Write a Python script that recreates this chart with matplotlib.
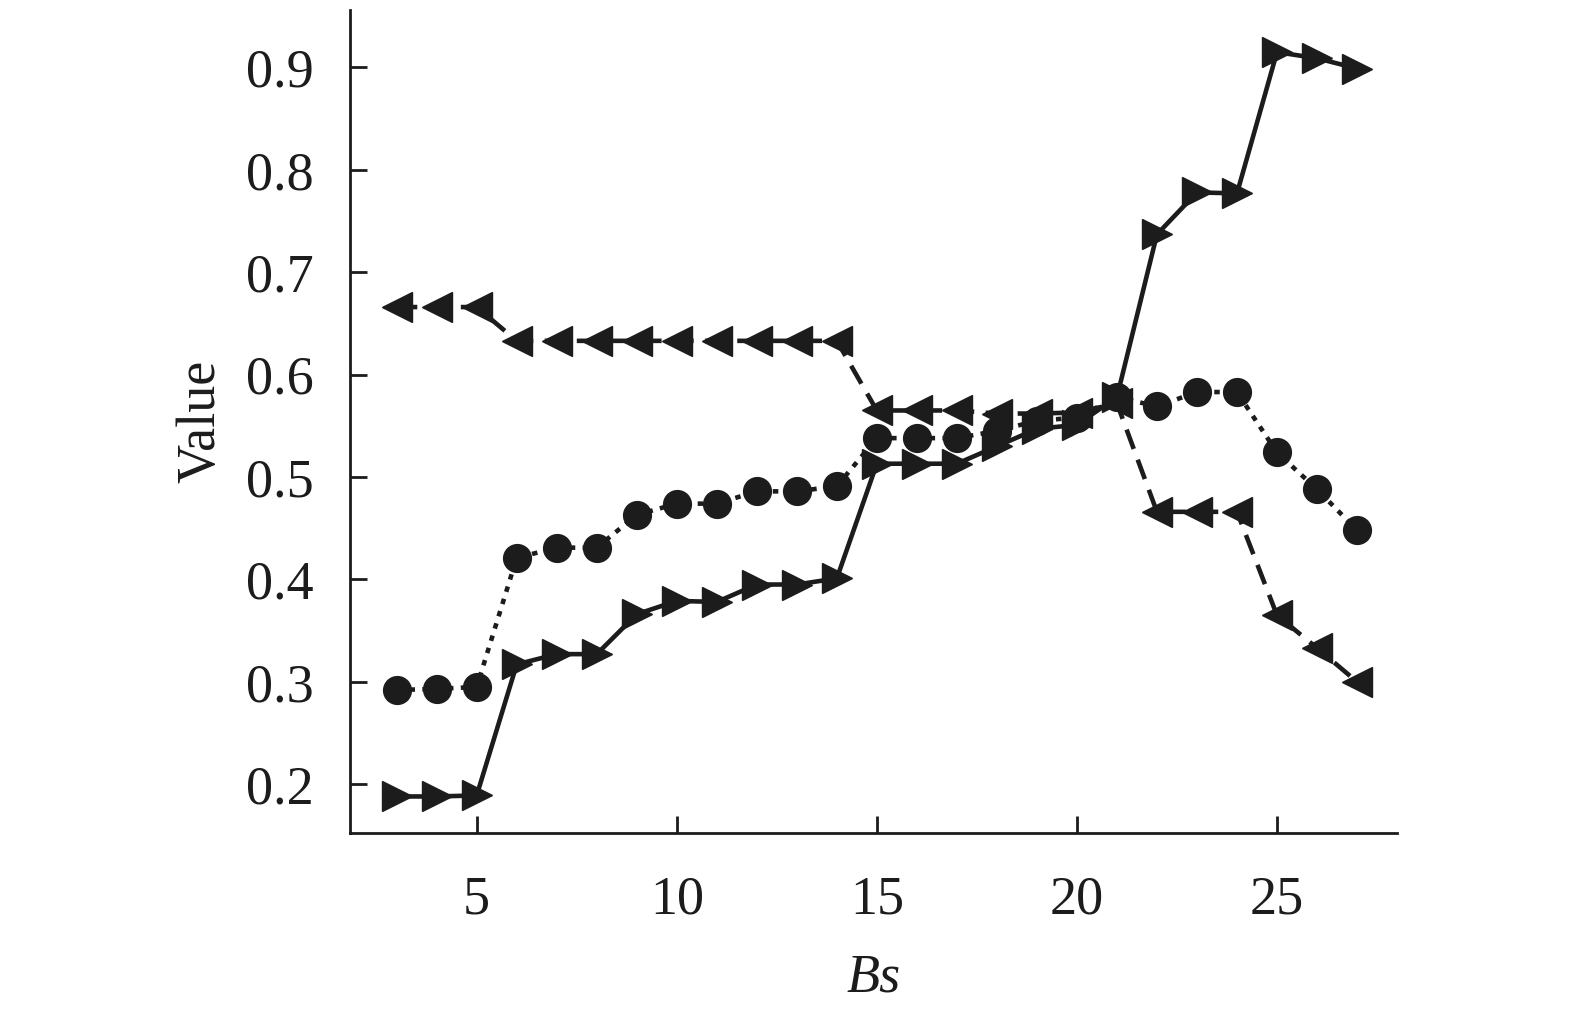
import numpy as np
import matplotlib.pyplot as plt

plt.rcParams['font.family'] = ['Liberation Serif', 'DejaVu Serif']

bs = list(range(3, 28))

# solid line, right triangles
val_solid = [0.188, 0.188, 0.189, 0.317, 0.327, 0.327, 0.366, 0.379, 0.378, 0.395,
             0.395, 0.401, 0.513, 0.513, 0.513, 0.530, 0.547, 0.551, 0.578, 0.737,
             0.778, 0.777, 0.915, 0.909, 0.899]
# dotted line, circles
val_dot = [0.292, 0.293, 0.295, 0.421, 0.431, 0.431, 0.463, 0.474, 0.474, 0.486,
           0.486, 0.491, 0.538, 0.538, 0.538, 0.545, 0.555, 0.558, 0.578, 0.569,
           0.583, 0.583, 0.524, 0.488, 0.448]
# dashed line, left triangles
val_dash = [0.666, 0.666, 0.666, 0.633, 0.633, 0.633, 0.633, 0.633, 0.633, 0.633,
            0.633, 0.633, 0.565, 0.565, 0.565, 0.562, 0.562, 0.563, 0.572, 0.466,
            0.466, 0.466, 0.365, 0.333, 0.300]

c = '#1c1c1c'

fig = plt.figure(figsize=(15.75, 10.15), dpi=100)
ax = fig.add_axes([0.222, 0.179, 0.665, 0.811])

ax.plot(bs, val_dash, color=c, lw=3.3, linestyle=(0, (4.5, 2.5)), marker='<',
        markersize=21, zorder=3)
ax.plot(bs, val_dot, color=c, lw=3.3, linestyle=(0, (1.2, 1.6)), marker='o',
        markersize=20, zorder=3)
ax.plot(bs, val_solid, color=c, lw=3.3, linestyle='-', marker='>',
        markersize=21, zorder=3)

ax.set_xlim(1.825, 28.0)
ax.set_ylim(0.152, 0.956)
ax.set_xticks([5, 10, 15, 20, 25])
ax.set_yticks([0.2, 0.3, 0.4, 0.5, 0.6, 0.7, 0.8, 0.9])
ax.set_yticklabels(['0.2', '0.3', '0.4', '0.5', '0.6', '0.7', '0.8', '0.9'])

for s in ['top', 'right']:
    ax.spines[s].set_visible(False)
for s in ['left', 'bottom']:
    ax.spines[s].set_linewidth(2)
    ax.spines[s].set_color(c)

ax.tick_params(direction='in', length=12, width=2, color=c, labelsize=39,
               labelcolor=c)
ax.tick_params(axis='x', pad=30)
ax.tick_params(axis='y', pad=26)

ax.set_xlabel('Bs', fontsize=39, style='italic', color=c, labelpad=20)
ax.set_ylabel('Value', fontsize=39, color=c, labelpad=14)

fig.savefig('out.png', dpi=100)
